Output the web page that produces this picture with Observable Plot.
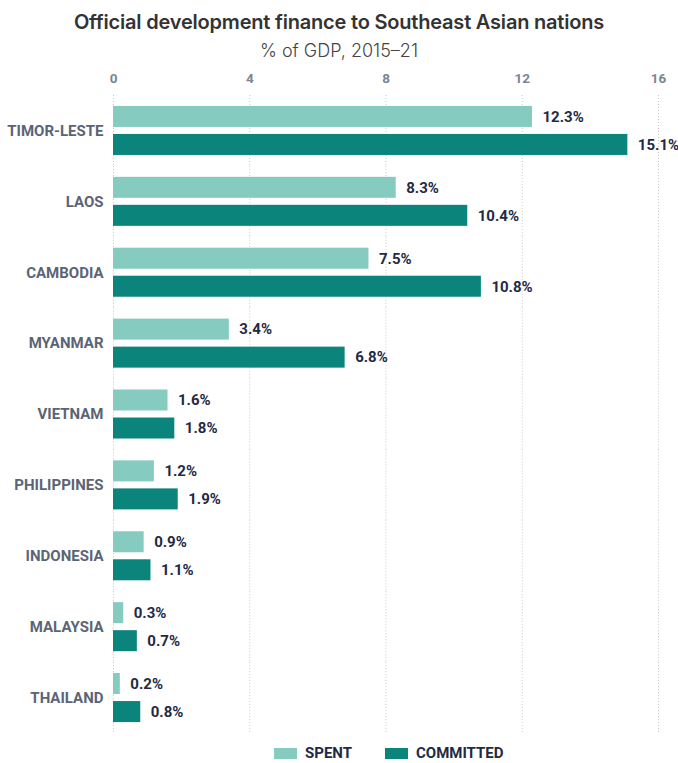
<!DOCTYPE html>
<html>
<head>
<meta charset="utf-8">
<script src="https://cdn.jsdelivr.net/npm/d3@7"></script>
<script src="https://cdn.jsdelivr.net/npm/@observablehq/plot@0.6"></script>
<style>
  body { margin: 0; background: #fff; width: 678px; font-family: Inter, "Noto Sans", sans-serif; }
  #title { position: absolute; top: 10px; left: 0; width: 678px; text-align: center; font-size: 20px; font-weight: 600; color: #333; letter-spacing: -0.2px; }
  #subtitle { position: absolute; top: 40px; left: 0; width: 678px; text-align: center; font-size: 18px; font-weight: 300; color: #444; }
  #chart { position: absolute; top: 62px; left: 0; }
  #legend { position: absolute; top: 744px; left: 274px; display: flex; gap: 33px; font-family: Roboto, sans-serif; font-weight: 700; font-size: 15px; color: #1f2a44; }
  .item { display: flex; align-items: center; gap: 8px; }
  .sw { width: 23px; height: 11px; display: inline-block; }
</style>
</head>
<body>
<div id="title">Official development finance to Southeast Asian nations</div>
<div id="subtitle">% of GDP, 2015–21</div>
<div id="chart"></div>
<div id="legend"></div>
<script>
const countries = ["TIMOR-LESTE", "LAOS", "CAMBODIA", "MYANMAR", "VIETNAM", "PHILIPPINES", "INDONESIA", "MALAYSIA", "THAILAND"];
const spent =     [12.3, 8.3, 7.5, 3.4, 1.6, 1.2, 0.9, 0.3, 0.2];
const committed = [15.1, 10.4, 10.8, 6.8, 1.8, 1.9, 1.1, 0.7, 0.8];
const seriesNames = ["SPENT", "COMMITTED"];
const seriesColors = ["#86cbbf", "#0b847c"];
const xTicks = [0, 4, 8, 12, 16];

const data = [];
countries.forEach((c, i) => {
  data.push({country: c, series: "SPENT", value: spent[i]});
  data.push({country: c, series: "COMMITTED", value: committed[i]});
});

const chart = Plot.plot({
  width: 678,
  height: 676,
  marginLeft: 113,
  marginRight: 20,
  marginTop: 33,
  marginBottom: 5,
  style: {fontFamily: "Roboto, sans-serif", background: "#fff"},
  facet: {data, y: "country", marginLeft: 113},
  fy: {domain: countries, padding: 0, round: false, label: null, axis: "left", tickSize: 0, tickPadding: 10},
  y: {domain: seriesNames, paddingInner: 0.25, paddingOuter: 0.39, round: false, axis: null},
  x: {domain: [0, 16], axis: "top", ticks: xTicks, tickSize: 0, tickPadding: 13, label: null},
  color: {domain: seriesNames, range: seriesColors},
  marks: [
    Plot.ruleX(xTicks, {stroke: "#c8c8c8", strokeDasharray: "1,2", strokeWidth: 1}),
    Plot.barX(data, {x: "value", y: "series", fill: "series"}),
    Plot.text(data, {x: "value", y: "series", text: d => d.value.toFixed(1) + "%", textAnchor: "start", dx: 10, fill: "#1f2a44", fontWeight: 700, fontSize: 15})
  ]
});

chart.querySelectorAll("[aria-label='fy-axis'] text, [aria-label='fy-axis tick label'] text").forEach(t => {
  t.setAttribute("font-size", 15); t.setAttribute("font-weight", 700); t.setAttribute("fill", "#5b6475");
});
chart.querySelectorAll("[aria-label='x-axis'] text, [aria-label='x-axis tick label'] text").forEach(t => {
  t.setAttribute("font-size", 13.5); t.setAttribute("font-weight", 700); t.setAttribute("fill", "#7b8494");
});
document.getElementById("chart").appendChild(chart);

const legend = document.getElementById("legend");
seriesNames.forEach((s, i) => {
  const it = document.createElement("div"); it.className = "item";
  const sw = document.createElement("span"); sw.className = "sw"; sw.style.background = seriesColors[i];
  const tx = document.createElement("span"); tx.textContent = s;
  it.appendChild(sw); it.appendChild(tx); legend.appendChild(it);
});
</script>
</body>
</html>
